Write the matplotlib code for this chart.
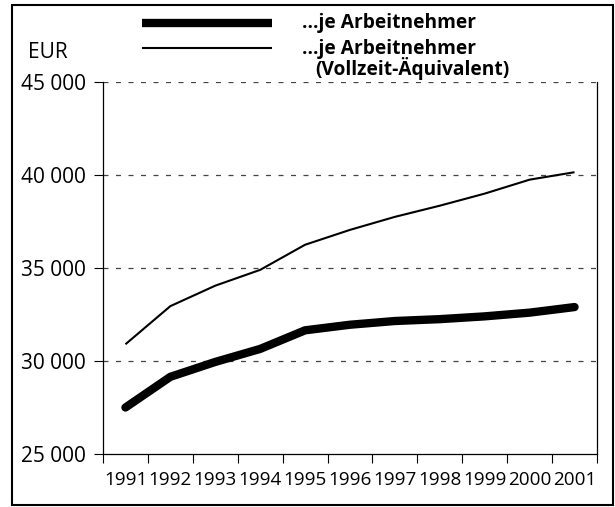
import matplotlib.pyplot as plt
from matplotlib.lines import Line2D
from matplotlib.patches import Rectangle

years = ['1991', '1992', '1993', '1994', '1995', '1996', '1997', '1998', '1999', '2000', '2001']
per_employee = [27500, 29150, 29950, 30650, 31650, 31950, 32150, 32250, 32400, 32600, 32900]
per_fte = [30900, 32950, 34050, 34900, 36250, 37050, 37750, 38350, 39000, 39750, 40150]
y_ticks = [25000, 30000, 35000, 40000, 45000]
y_labels = ['25 000', '30 000', '35 000', '40 000', '45 000']

plt.rcParams['font.family'] = ['Open Sans', 'DejaVu Sans']

W, H = 615, 507
fig = plt.figure(figsize=(W / 100, H / 100), dpi=100)

def fx(px):
	return px / W

def fy(py):
	return 1 - py / H

ax = fig.add_axes([fx(103), fy(454), fx(597) - fx(103), fy(82) - fy(454)])
x = list(range(len(years)))
ax.plot(x, per_fte, color='black', lw=1.5, solid_capstyle='butt', zorder=3)
ax.plot(x, per_employee, color='black', lw=6, solid_capstyle='round', solid_joinstyle='round', zorder=3)

ax.set_xlim(-0.5, len(years) - 0.5)
ax.set_ylim(25000, 45000)
ax.set_xticks([i - 0.5 for i in range(len(years) + 1)])
ax.set_xticklabels([])
ax.set_xticks(x, minor=True)
ax.set_xticklabels(years, minor=True, fontsize=13.6)
ax.tick_params(axis='x', which='major', direction='out', length=6.5, width=0.8)
ax.tick_params(axis='x', which='minor', length=0, pad=12)
ax.set_yticks(y_ticks)
ax.set_yticklabels(y_labels, fontsize=15)
ax.tick_params(axis='y', direction='out', length=6.5, width=0.8, pad=6)

for v in y_ticks[1:]:
	ax.axhline(v, color='#444444', lw=0.9, dashes=(4, 6), zorder=1)
ax.spines['top'].set_visible(False)
for s in ['left', 'right', 'bottom']:
	ax.spines[s].set_linewidth(0.9)

fig.text(fx(28), fy(52), 'EUR', fontsize=15, va='center', ha='left')

# legend
fig.add_artist(Line2D([fx(142), fx(272)], [fy(23), fy(23)], color='black', lw=6, solid_capstyle='butt'))
fig.add_artist(Line2D([fx(142), fx(272)], [fy(48), fy(48)], color='black', lw=1.5, solid_capstyle='butt'))
fig.text(fx(302), fy(23), '…je Arbeitnehmer', fontsize=13.8, fontweight='bold', va='center')
fig.text(fx(302), fy(49), '…je Arbeitnehmer', fontsize=13.8, fontweight='bold', va='center')
fig.text(fx(315), fy(69), '(Vollzeit-Äquivalent)', fontsize=13.8, fontweight='bold', va='center')

# outer frame
fig.add_artist(Rectangle((fx(12), fy(505)), fx(613) - fx(12), fy(5) - fy(505),
	fill=False, ec='black', lw=1.5, transform=fig.transFigure))

fig.savefig('out.png', dpi=100)
